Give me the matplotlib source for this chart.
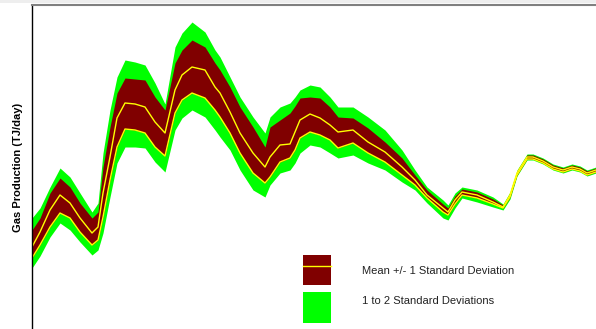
import matplotlib
matplotlib.use("Agg")
import matplotlib.pyplot as plt
from matplotlib.patches import Rectangle
from matplotlib.lines import Line2D
import numpy as np

plt.rcParams["font.family"] = ["Liberation Sans", "DejaVu Sans"]

# day index
days = [0, 8, 18, 28, 38, 48, 60, 66, 71, 78, 85, 93, 103, 113, 123, 133,
        143, 150, 160, 173, 183, 188, 198, 208, 221, 233, 238, 248, 258,
        263, 268, 278, 288, 298, 306, 321, 336, 353, 370, 383, 395, 411,
        416, 423, 430, 445, 461, 471, 478, 485, 495, 501, 511, 521, 531,
        540, 548, 555, 564]

# production levels, TJ/day (arbitrary scale)
top2 = [218, 208, 187, 168, 177, 193, 212, 203, 153, 110, 77, 60, 62, 65, 83, 104,
        47, 33, 22, 32, 50, 57, 77, 97, 117, 133, 117, 107, 103, 97, 90, 85, 87, 97,
        107, 107, 117, 130, 150, 170, 187, 200, 205, 193, 187, 190, 197, 204, 192,
        170, 154, 154, 158, 164, 167, 164, 166, 170, 167]
top1 = [230, 218, 193, 178, 187, 203, 218, 212, 167, 127, 93, 78, 79, 80, 97, 110,
        63, 50, 40, 47, 63, 70, 87, 107, 127, 147, 127, 120, 113, 106, 98, 97, 98, 107,
        117, 118, 128, 142, 158, 175, 190, 204, 208, 196, 189, 192, 199, 205, 193,
        171, 155, 155, 159, 165, 168, 165, 167, 171, 168]
mean = [247, 232, 210, 195, 203, 218, 233, 227, 193, 157, 118, 103, 104, 107, 122, 133,
        90, 75, 67, 70, 87, 93, 112, 133, 153, 167, 157, 145, 144, 132, 120, 114, 118, 125,
        132, 130, 142, 152, 167, 180, 195, 208, 212, 200, 192, 195, 202, 207, 195,
        173, 157, 157, 161, 167, 170, 167, 169, 173, 170]
low1 = [258, 245, 227, 213, 218, 232, 245, 240, 217, 180, 147, 129, 130, 133, 147, 156,
        113, 100, 93, 98, 110, 117, 133, 153, 173, 183, 177, 162, 158, 150, 138, 132, 135, 140,
        148, 143, 153, 162, 175, 185, 198, 212, 215, 204, 195, 198, 204, 208, 197,
        175, 159, 159, 163, 169, 172, 169, 171, 175, 172]
low2 = [268, 256, 237, 223, 230, 242, 255, 250, 233, 197, 163, 147, 147, 148, 162, 172,
        130, 118, 110, 117, 130, 137, 150, 170, 190, 197, 185, 173, 170, 163, 153, 145, 147, 153,
        158, 155, 163, 170, 182, 190, 203, 218, 220, 208, 198, 202, 207, 210, 199,
        176, 160, 160, 164, 170, 173, 170, 172, 176, 173]

H = 329
days = np.array(days)
top2, top1, mean, low1, low2 = [H - np.array(a) for a in (top2, top1, mean, low1, low2)]

fig = plt.figure(figsize=(5.96, 3.29), dpi=100)
ax = fig.add_axes([32 / 596, 0, 1 - 32 / 596, 1 - 5 / 329])

ax.fill_between(days, low2, top2, color="#00FF00", linewidth=0)
ax.fill_between(days, low1, top1, color="#800000", linewidth=0)
ax.plot(days, mean, color="#FFFF00", lw=1.0)
ax.plot(days, low1, color="#FFFF00", lw=1.0)

ax.set_xlim(0, 564)
ax.set_ylim(0, H - 5)
ax.set_xticks([])
ax.set_yticks([])
for s in ("right", "bottom"):
    ax.spines[s].set_visible(False)
ax.spines["top"].set_color("#808080")
ax.spines["top"].set_linewidth(1.5)
ax.spines["left"].set_color("black")
ax.spines["left"].set_linewidth(1.0)

fig.add_artist(Rectangle((0, 1 - 3 / H), 1, 3 / H, transform=fig.transFigure,
                         color="#eeeeee", lw=0))

fig.text(18 / 596, 1 - 167 / H, "Gas Production (TJ/day)", rotation=90,
         ha="center", va="center", fontsize=8, fontweight="bold")

# legend
W = 596
fig.add_artist(Rectangle((303 / W, 1 - 285 / H), 28 / W, 30 / H,
                         transform=fig.transFigure, color="#800000", lw=0))
fig.add_artist(Line2D([303 / W, 331 / W], [1 - 266 / H, 1 - 266 / H],
                      transform=fig.transFigure, color="#FFFF00", lw=1.0))
fig.add_artist(Rectangle((303 / W, 1 - 323 / H), 28 / W, 31 / H,
                         transform=fig.transFigure, color="#00FF00", lw=0))
fig.text(362 / W, 1 - 271 / H, "Mean +/- 1 Standard Deviation",
         ha="left", va="center", fontsize=8, color="#222222")
fig.text(362 / W, 1 - 301 / H, "1 to 2 Standard Deviations",
         ha="left", va="center", fontsize=8, color="#222222")

fig.savefig("out.png", dpi=100)
